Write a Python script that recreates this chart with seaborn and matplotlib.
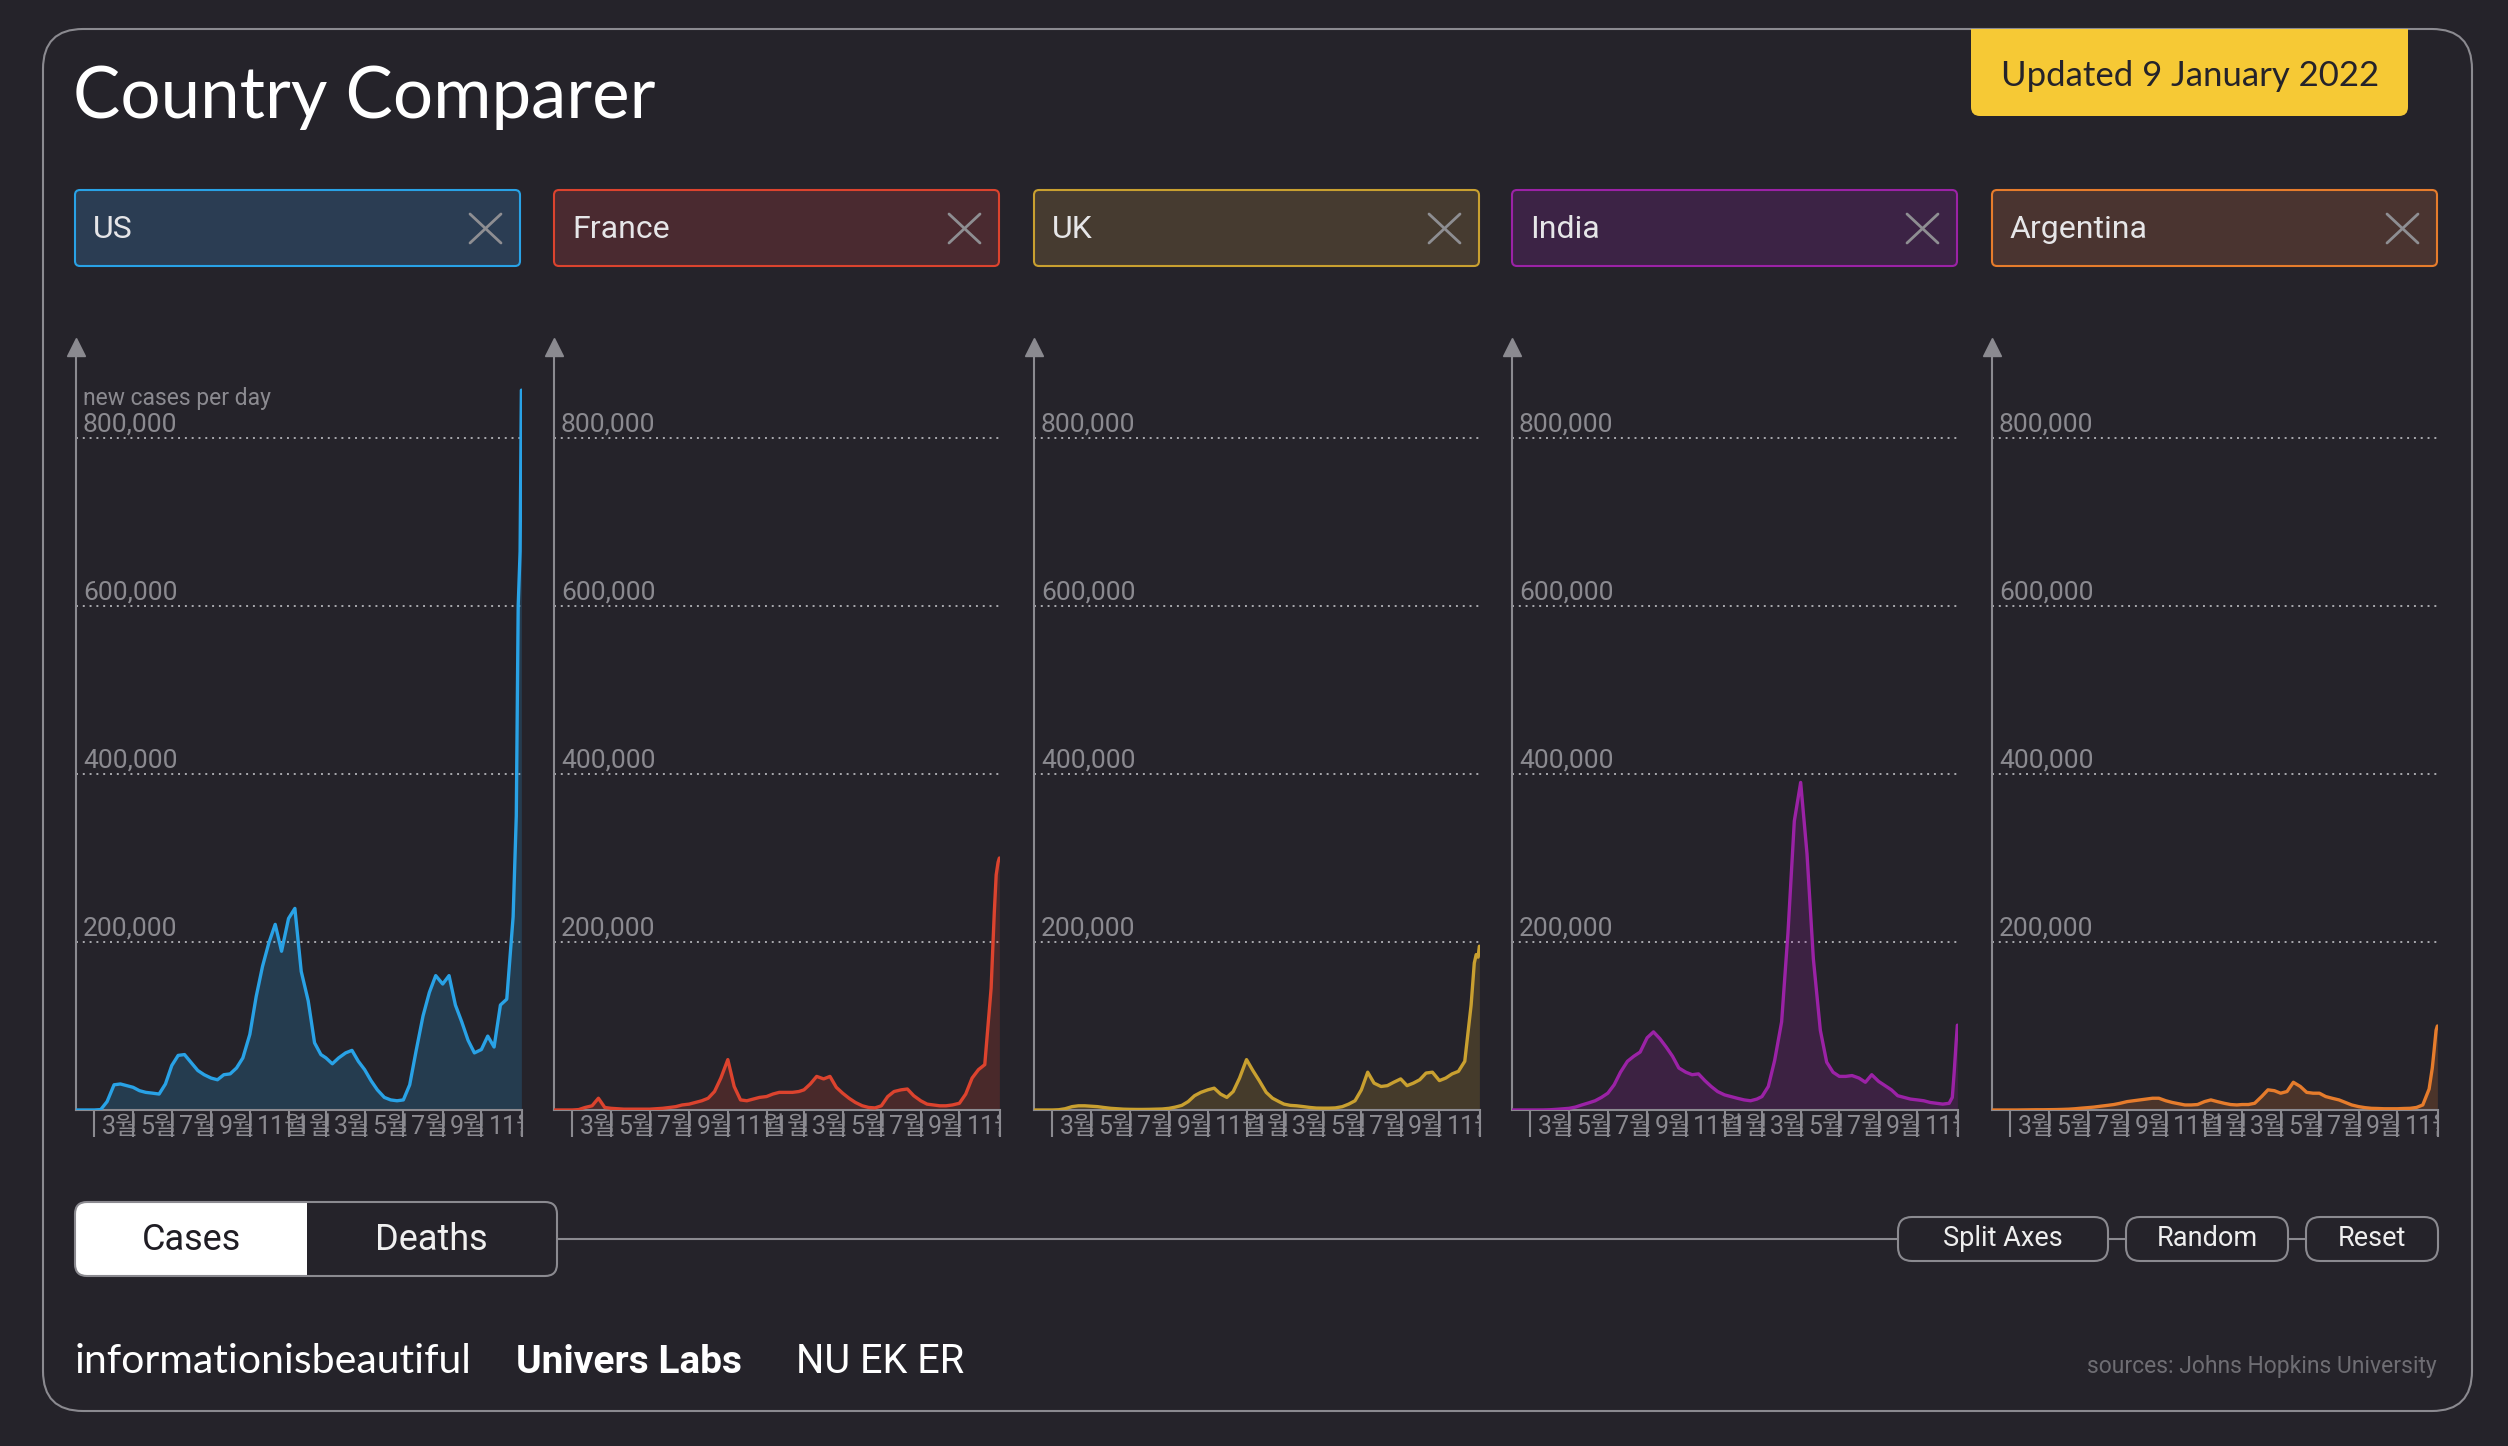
import numpy as np
import pandas as pd
import matplotlib
matplotlib.use("Agg")
import matplotlib.pyplot as plt
import matplotlib.dates as mdates
from matplotlib.patches import FancyBboxPatch, Rectangle
from matplotlib.transforms import ScaledTranslation, Bbox, TransformedBbox
import seaborn as sns

W, H, DPI = 2508, 1446, 100
BG = "#25232a"
GREY = "#8b8a90"

countries = ["US", "France", "UK", "India", "Argentina"]
line_colors = ["#29a2e6", "#dc432e", "#c9a030", "#9b22a6", "#e67c2c"]
box_fills = ["#2b3d53", "#4a2a30", "#463b30", "#3c2345", "#4a3430"]

# 1st, 11th and 21st of every month, then the last few days before the update
month_starts = pd.date_range("2020-02-01", "2021-12-01", freq="MS")
dates = [m + pd.Timedelta(days=d) for m in month_starts for d in (0, 10, 20)]
dates += list(pd.to_datetime(["2021-12-26", "2021-12-29", "2022-01-01", "2022-01-03"]))

# new cases per day, thousands
us_k = [0, 0, 0, 0, 0.5, 10, 30, 31, 29, 27, 23, 21, 20, 19, 31, 53, 65, 66,
        56, 47, 42, 38, 36, 42, 43, 50, 62, 90, 135, 171, 199, 221, 189,
        228, 240, 165, 130, 80, 66, 62, 55, 62, 68, 71, 58, 48, 35, 24,
        15, 12, 11, 12, 30, 70, 112, 140, 160, 150, 160, 125, 105, 83, 68,
        72, 88, 75, 125, 132, 230, 350, 600, 665, 857]
france_k = [0, 0, 0, 0, 0.5, 3, 5, 14, 3, 2, 1.5, 1, 1, 1, 1, 1, 1.5, 2,
            3, 4, 6, 7, 9, 11, 14, 22, 38, 60, 28, 12, 11, 13, 15,
            16, 19, 21, 21, 21, 22, 24, 31, 40, 37, 40, 27, 20, 14, 9,
            5, 3, 2.5, 5, 16, 22, 24, 25, 17, 11, 7, 6, 5, 5, 6,
            8, 19, 38, 48, 54, 145, 235, 280, 295, 300]
uk_k = [0, 0, 0, 0, 0.3, 1.5, 4, 5, 5, 4.5, 4, 3, 2, 1.5, 1, 0.8, 0.7, 0.7,
        0.8, 1, 1.2, 2, 3.5, 5.5, 10, 17, 21, 24, 26, 19, 15, 22, 38,
        60, 47, 35, 21, 14, 10, 7, 5.5, 5, 4, 3, 2.3, 2.2, 2.2, 2.5,
        4, 7, 11, 24, 45, 32, 28, 29, 33, 37, 29, 32, 36, 44, 45,
        35, 38, 43, 46, 58, 125, 175, 185, 182, 195]
india_k = [0, 0, 0, 0, 0, 0.05, 0.3, 0.8, 1.4, 2, 3.5, 6, 8.5, 11, 15, 20, 30, 45,
           58, 64, 69, 86, 93, 85, 75, 64, 50, 45, 42, 43, 35, 28, 22,
           18, 16, 14, 12, 11, 13, 16, 28, 59, 105, 211, 344, 390, 305, 180,
           95, 57, 45, 40, 40, 41, 38, 33, 42, 34, 29, 24, 17, 15, 13,
           12, 11, 9, 8, 7, 8, 15, 45, 80, 101]
argentina_k = [0, 0, 0, 0, 0, 0.1, 0.2, 0.3, 0.3, 0.4, 0.5, 0.7, 1, 1.5, 2.2, 2.8, 3.5, 4.5,
               5.5, 6.5, 8, 10, 11, 12, 13, 14, 14, 11, 9, 7.5, 6, 6, 6.5,
               10, 12, 10, 8, 6.5, 6, 6.5, 6.5, 8, 16, 24, 23, 20, 22, 33,
               28, 21, 20, 20, 16, 14, 12, 9, 6, 4, 2.8, 2, 1.8, 1.5, 1.5,
               1.5, 1.8, 2, 3, 6, 25, 50, 72, 95, 100]

tick_dates = pd.date_range("2020-03-01", "2021-11-01", freq="2MS")
tick_labels = ["3월", "5월", "7월", "9월", "11월", "1월", "3월", "5월", "7월", "9월", "11월"]
y_ticks = [200000, 400000, 600000, 800000]

frames = []
for name, vals in zip(countries, [us_k, france_k, uk_k, india_k, argentina_k]):
    frames.append(pd.DataFrame({"date": dates, "cases": np.array(vals) * 1000, "country": name}))
df = pd.concat(frames, ignore_index=True)

sns.set_style("dark")
plt.rcParams["font.family"] = ["Roboto", "Noto Sans CJK KR", "DejaVu Sans"]

fig = plt.figure(figsize=(W / DPI, H / DPI), dpi=DPI, facecolor=BG)

# page furniture, drawn in pixel units
bg = fig.add_axes([0, 0, 1, 1], zorder=0)
bg.set_xlim(0, W)
bg.set_ylim(H, 0)
bg.axis("off")

bg.add_patch(FancyBboxPatch((43, 29), 2429, 1382, boxstyle="round,pad=0,rounding_size=40",
                            fc="none", ec=GREY, lw=1.5))
bg.add_patch(FancyBboxPatch((1971, 29), 437, 87, boxstyle="round,pad=0,rounding_size=9",
                            fc="#f6c935", ec="none"))
bg.add_patch(Rectangle((1971, 29), 437, 40, fc="#f6c935", ec="none"))
bg.text(2190, 86, "Updated 9 January 2022", ha="center", va="baseline", fontsize=25,
        color="#25232a", family="Lato")
bg.text(73, 118, "Country Comparer", ha="left", va="baseline", fontsize=51,
        color="white", family="Lato", fontweight="normal")

panel_left = [76, 554, 1034, 1512, 1992]
box_left = [75, 554, 1034, 1512, 1992]
for i, name in enumerate(countries):
    x0 = box_left[i]
    bg.add_patch(FancyBboxPatch((x0, 190), 445, 76, boxstyle="round,pad=0,rounding_size=5",
                                fc=box_fills[i], ec=line_colors[i], lw=1.5))
    bg.text(x0 + 18, 229, name, ha="left", va="center", fontsize=23, color="#e6e6e8")
    bg.plot([x0 + 395, x0 + 426], [214, 243], color="#8e8e92", lw=2)
    bg.plot([x0 + 395, x0 + 426], [243, 214], color="#8e8e92", lw=2)

# toggle + buttons
bg.plot([557, 1898], [1239, 1239], color=GREY, lw=1.5)
bg.plot([2108, 2126], [1239, 1239], color=GREY, lw=1.5)
bg.plot([2288, 2306], [1239, 1239], color=GREY, lw=1.5)
bg.add_patch(FancyBboxPatch((75, 1202), 232, 74, boxstyle="round,pad=0,rounding_size=12",
                            fc="white", ec="none"))
bg.add_patch(Rectangle((280, 1202), 27, 74, fc="white", ec="none"))
bg.add_patch(FancyBboxPatch((75, 1202), 482, 74, boxstyle="round,pad=0,rounding_size=12",
                            fc="none", ec=GREY, lw=1.5))
bg.text(191, 1240, "Cases", ha="center", va="center", fontsize=26, color="#1f1d24")
bg.text(431, 1240, "Deaths", ha="center", va="center", fontsize=26, color="#f0f0f0")
for (bx0, bx1), lab in zip([(1898, 2108), (2126, 2288), (2306, 2438)], ["Split Axes", "Random", "Reset"]):
    bg.add_patch(FancyBboxPatch((bx0, 1217), bx1 - bx0, 44, boxstyle="round,pad=0,rounding_size=14",
                                fc=BG, ec=GREY, lw=1.5))
    bg.text((bx0 + bx1) / 2, 1238, lab, ha="center", va="center", fontsize=19.5, color="#eeeeee")

# footer
bg.text(75, 1373, "informationisbeautiful", ha="left", va="baseline", fontsize=29.5,
        color="white", family="Lato")
bg.text(516, 1373, "Univers Labs", ha="left", va="baseline", fontsize=28,
        color="white", fontweight="bold")
bg.text(796, 1373, "NU EK ER", ha="left", va="baseline", fontsize=28.5, color="white")
bg.text(2437, 1373, "sources: Johns Hopkins University", ha="right", va="baseline",
        fontsize=16.5, color="#6e6d73")

x_start = pd.Timestamp("2020-02-01")
x_end = pd.Timestamp("2022-01-04")
y_top = 909000

for i, name in enumerate(countries):
    sub = df[df["country"] == name]
    ax = fig.add_axes([panel_left[i] / W, 1 - 1110 / H, 446 / W, (1110 - 346.5) / H], zorder=2)
    ax.set_facecolor("none")
    ax.set_axisbelow(True)
    sns.lineplot(data=sub, x="date", y="cases", color=line_colors[i], linewidth=2.4,
                 ax=ax, legend=False, zorder=3)
    ax.fill_between(sub["date"], 0, sub["cases"], color=line_colors[i], alpha=0.2,
                    linewidth=0, zorder=2)
    ax.set_xlim(x_start, x_end)
    ax.set_ylim(0, y_top)
    ax.set_xlabel("")
    ax.set_ylabel("")
    sns.despine(ax=ax)
    for side in ["left", "bottom"]:
        ax.spines[side].set_color(GREY)
        ax.spines[side].set_linewidth(1.5)

    ax.set_xticks(list(tick_dates) + [x_end])
    ax.tick_params(axis="x", bottom=True, direction="out", length=19.5, width=1.5,
                   color=GREY, labelbottom=False)
    ax.set_yticks(y_ticks)
    ax.tick_params(axis="y", left=False, length=0, labelleft=False)
    ax.grid(False)
    ax.yaxis.grid(True, color="#a9a9ae", linestyle=(0, (1, 2.5)), linewidth=1.4)

    ax.plot([0], [1], marker="^", markersize=12.5, color=GREY, transform=ax.transAxes,
            clip_on=False, scalex=False, scaley=False)

    lab_off = ax.get_xaxis_transform() + ScaledTranslation(0.075, -0.167, fig.dpi_scale_trans)
    clip = TransformedBbox(Bbox([[0, -1], [1, 1]]), ax.transAxes)
    for d, lab in zip(tick_dates, tick_labels):
        t = ax.text(mdates.date2num(d), 0, lab, transform=lab_off, ha="left", va="center",
                    fontsize=18, color=GREY, family=["Roboto", "Noto Sans CJK KR"])
        t.set_clip_path(None)
        t.set_clip_box(clip)
        t.set_clip_on(True)

    ylab_off = ax.get_yaxis_transform() + ScaledTranslation(0.07, 0.065, fig.dpi_scale_trans)
    for v in y_ticks:
        ax.text(0, v, f"{v:,}", transform=ylab_off, ha="left", va="baseline",
                fontsize=19, color=GREY)
    if i == 0:
        top_off = ax.get_yaxis_transform() + ScaledTranslation(0.07, 0.335, fig.dpi_scale_trans)
        ax.text(0, 800000, "new cases per day", transform=top_off, ha="left", va="baseline",
                fontsize=16.5, color=GREY)

fig.savefig("out.png", dpi=DPI, facecolor=BG)
